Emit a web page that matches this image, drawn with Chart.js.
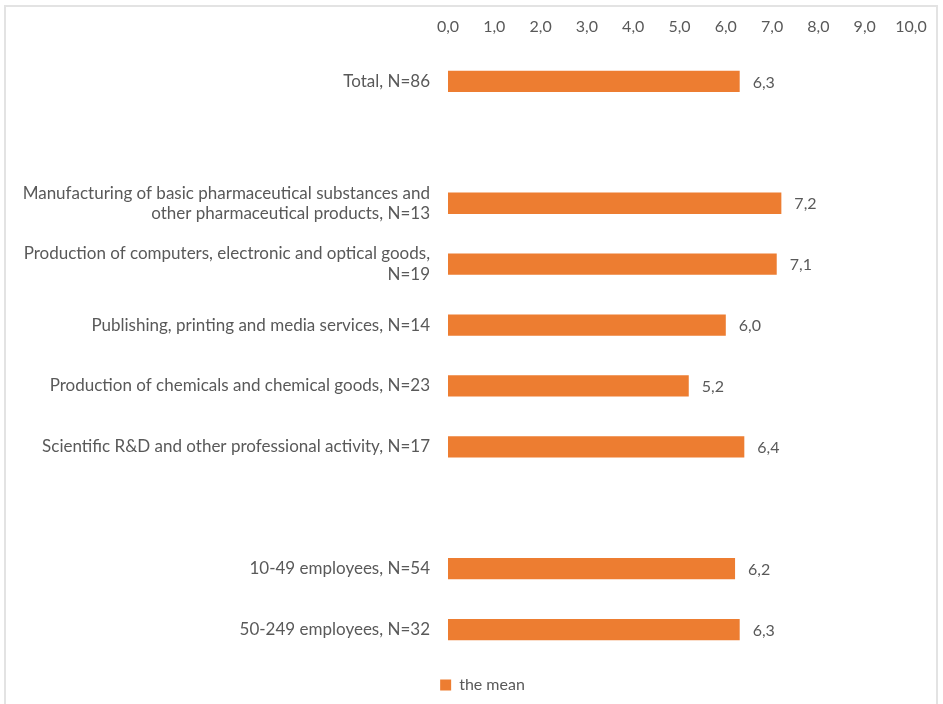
<!DOCTYPE html>
<html>
<head>
<meta charset="utf-8">
<script src="https://cdn.jsdelivr.net/npm/chart.js@4"></script>
<style>
  body { margin: 0; background: #fff; }
  #frame {
    position: absolute; left: 4px; top: 5px; width: 934px; height: 699px;
    border: 2px solid #e3e3e3; border-bottom: none; box-sizing: border-box;
  }
  #wrap { position: absolute; left: 0; top: 0; width: 943px; height: 704px; }
</style>
</head>
<body>
<div id="frame"></div>
<div id="wrap"><canvas id="mean-chart" width="943" height="704"></canvas></div>
<script>
// categories (empty entries are spacer rows between groups)
const categories = [
  'Total, N=86',
  '',
  ['Manufacturing of basic pharmaceutical substances and', 'other pharmaceutical products, N=13'],
  ['Production of computers, electronic and optical goods,', 'N=19'],
  'Publishing, printing and media services, N=14',
  'Production of chemicals and chemical goods, N=23',
  'Scientific R&D and other professional activity, N=17',
  '',
  '10-49 employees, N=54',
  '50-249 employees, N=32'
];
const meanValues = [6.3, null, 7.2, 7.1, 6.0, 5.2, 6.4, null, 6.2, 6.3];
const tickValues = [0, 1, 2, 3, 4, 5, 6, 7, 8, 9, 10];

const fmt = v => v.toFixed(1).replace('.', ',');
const textGray = '#595959';
const fontFam = 'Lato, "Open Sans", sans-serif';

// value labels to the right of each bar
const barLabels = {
  id: 'barLabels',
  afterDatasetsDraw(chart) {
    const ctx = chart.ctx;
    const meta = chart.getDatasetMeta(0);
    ctx.save();
    ctx.font = '16px ' + fontFam;
    ctx.fillStyle = textGray;
    ctx.textBaseline = 'middle';
    meta.data.forEach((bar, i) => {
      if (meanValues[i] == null) return;
      ctx.fillText(fmt(meanValues[i]), bar.x + 13, bar.y + 1);
    });
    ctx.restore();
  }
};

// nudge the legend a bit right and down, under the bars
const legendNudge = {
  id: 'legendNudge',
  afterLayout(chart) {
    const lg = chart.legend;
    lg.left += 54;
    lg.top += 7;
    lg.bottom += 7;
  }
};

new Chart(document.getElementById('mean-chart'), {
  type: 'bar',
  data: {
    labels: categories,
    datasets: [{
      label: 'the mean',
      data: meanValues,
      backgroundColor: '#ED7D31',
      barPercentage: 0.7,
      categoryPercentage: 0.5
    }]
  },
  options: {
    indexAxis: 'y',
    responsive: false,
    animation: false,
    devicePixelRatio: 1,
    layout: { padding: { top: 0, right: 32, bottom: 8, left: 0 } },
    scales: {
      x: {
        position: 'top',
        min: 0, max: 10,
        afterBuildTicks: s => { s.ticks = tickValues.map(v => ({ value: v })); },
        afterFit: s => { s.height = 51; },
        grid: { display: false, drawTicks: false },
        border: { display: false },
        ticks: {
          padding: 15,
          color: textGray,
          font: { size: 16, family: fontFam },
          callback: v => fmt(v)
        }
      },
      y: {
        afterFit: s => { s.width = 448; },
        grid: { display: false, drawTicks: false },
        border: { display: false },
        ticks: {
          padding: 18,
          color: textGray,
          font: { size: 17, family: fontFam }
        }
      }
    },
    plugins: {
      legend: {
        position: 'bottom',
        labels: {
          boxWidth: 11, boxHeight: 11,
          padding: 10,
          color: textGray,
          font: { size: 16, family: fontFam }
        }
      },
      tooltip: { enabled: false }
    }
  },
  plugins: [barLabels, legendNudge]
});
</script>
</body>
</html>
